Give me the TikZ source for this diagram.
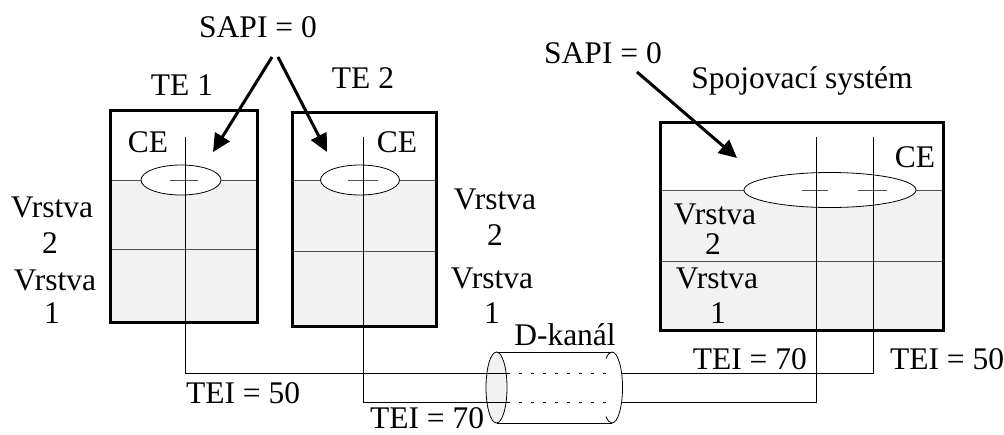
\documentclass[tikz,border=0pt]{standalone}
\usepackage{fontspec}
\setmainfont{Liberation Serif}
\usetikzlibrary{arrows.meta,shapes.geometric}
\definecolor{shadegray}{RGB}{242,242,242}
\definecolor{linegray}{RGB}{80,80,80}
\begin{document}
\begin{tikzpicture}[x=1pt,y=-1pt,
  lbl/.style={font=\fontsize{31.5}{36}\selectfont, inner sep=0pt, anchor=base},
  frame/.style={draw=black, line width=3pt},
  shadebox/.style={fill=shadegray, draw=linegray, line width=0.8pt},
  wire/.style={draw=black, line width=0.8pt},
  ptr/.style={draw=black, line width=3pt, -{Triangle[length=18pt,width=17pt]}},
  cebox/.style={ellipse, draw=black, fill=white, line width=0.8pt, inner sep=0pt},
  tick/.style={draw=linegray, line width=0.8pt},
]
\useasboundingbox (0,0) rectangle (1004,434);

% ---------- shaded layer areas ----------
\draw[shadebox] (110,180) rectangle (257,322);
\draw[linegray, line width=0.8pt] (110,249) -- (257,249);
\draw[shadebox] (292,180) rectangle (436,326);
\draw[linegray, line width=0.8pt] (292,251) -- (436,251);
\draw[shadebox] (660,190) rectangle (943,330);
\draw[linegray, line width=0.8pt] (660,261) -- (943,261);

% ---------- CE ellipses ----------
\node[cebox, minimum width=80pt, minimum height=30pt] (ce1) at (181,180) {};
\node[cebox, minimum width=79pt, minimum height=30pt] (ce2) at (360,180) {};
\node[cebox, minimum width=172pt, minimum height=35pt] (ce3) at (830,190) {};
\draw[tick] (170,180) -- (198,180);
\draw[tick] (348,180) -- (378,180);
\draw[tick] (802,190) -- (828,190);
\draw[tick] (858,190) -- (887,190);

% ---------- cylinder (D-kanal) ----------
\coordinate (cylL) at (496.5,387.5);
\coordinate (cylR) at (612,387.5);
\draw[wire] (496.5,352) -- (612,352);
\draw[wire] (496.5,423) -- (612,423);
\draw[wire, fill=shadegray] (cylL) ellipse [x radius=10.5pt, y radius=35.5pt];
\draw[wire] (612,352) arc[start angle=90, end angle=-90, x radius=10.5pt, y radius=35.5pt];
\draw[wire] (612,352) arc[start angle=90, end angle=125, x radius=10.5pt, y radius=35.5pt];
\draw[wire] (612,423) arc[start angle=-90, end angle=-125, x radius=10.5pt, y radius=35.5pt];

% ---------- wires ----------
\coordinate (w1top) at (185,137);
\coordinate (w1bend) at (185,373);
\coordinate (w1in) at (507,373);
\coordinate (w1din) at (612,373);
\coordinate (w1out) at (622,373);
\coordinate (w1rbend) at (873,373);
\coordinate (w1rtop) at (873,137);
\draw[wire] (w1top) -- (w1bend) -- (w1in);
\draw[wire, dash pattern=on 3pt off 9pt] (w1in) -- (w1din);
\draw[wire] (w1out) -- (w1rbend) -- (w1rtop);

\coordinate (w2top) at (363,137);
\coordinate (w2bend) at (363,402);
\coordinate (w2in) at (507,402);
\coordinate (w2din) at (612,402);
\coordinate (w2out) at (622,402);
\coordinate (w2rbend) at (816,402);
\coordinate (w2rtop) at (816,137);
\draw[wire] (w2top) -- (w2bend) -- (w2in);
\draw[wire, dash pattern=on 3pt off 9pt] (w2in) -- (w2din);
\draw[wire] (w2out) -- (w2rbend) -- (w2rtop);

% ---------- frames ----------
\node[frame, rectangle, minimum width=147pt, minimum height=212pt, inner sep=0pt] (te1) at (183.5,216) {};
\node[frame, rectangle, minimum width=144pt, minimum height=214pt, inner sep=0pt] (te2) at (364,219) {};
\node[frame, rectangle, minimum width=283pt, minimum height=208pt, inner sep=0pt] (ss) at (801.5,226) {};

% ---------- labels ----------
\node[lbl] (sapiA) at (258,37) {SAPI = 0};
\node[lbl] (te1lbl) at (182,95) {TE 1};
\node[lbl] (te2lbl) at (363,88) {TE 2};
\node[lbl] (ce1lbl) at (148,152) {CE};
\node[lbl] (ce2lbl) at (397,152) {CE};

\node[lbl] (l1a) at (52,217) {Vrstva};
\node[lbl] (l1b) at (50,253) {2};
\node[lbl] (l1c) at (55,290) {Vrstva};
\node[lbl] (l1d) at (52,323) {1};

\node[lbl] (m1a) at (495,209) {Vrstva};
\node[lbl] (m1b) at (495,245) {2};
\node[lbl] (m1c) at (492,288) {Vrstva};
\node[lbl] (m1d) at (492,323) {1};

\node[lbl] (dk) at (565,345) {D-kanál};

\node[lbl] (sapiB) at (603,63) {SAPI = 0};
\node[lbl] (sslbl) at (802,88) {Spojovací systém};
\node[lbl] (ce3lbl) at (915,167) {CE};
\node[lbl] (s1a) at (715,224) {Vrstva};
\node[lbl] (s1b) at (713,254) {2};
\node[lbl] (s1c) at (717,288) {Vrstva};
\node[lbl] (s1d) at (718,323) {1};

\node[lbl, anchor=base east] (tei70r) at (807,369) {TEI = 70};
\node[lbl] (tei50r) at (947,369) {TEI = 50};
\node[lbl] (tei50l) at (243,403) {TEI = 50};
\node[lbl] (tei70l) at (427,428) {TEI = 70};

% ---------- arrows ----------
\coordinate (a1s) at (272,57);
\coordinate (a1e) at (213,152);
\coordinate (a2s) at (278,57);
\coordinate (a2e) at (327,152);
\coordinate (a3s) at (637,72);
\coordinate (a3e) at (737,158);
\draw[ptr] (a1s) -- (a1e);
\draw[ptr] (a2s) -- (a2e);
\draw[ptr] (a3s) -- (a3e);
\end{tikzpicture}
\end{document}
